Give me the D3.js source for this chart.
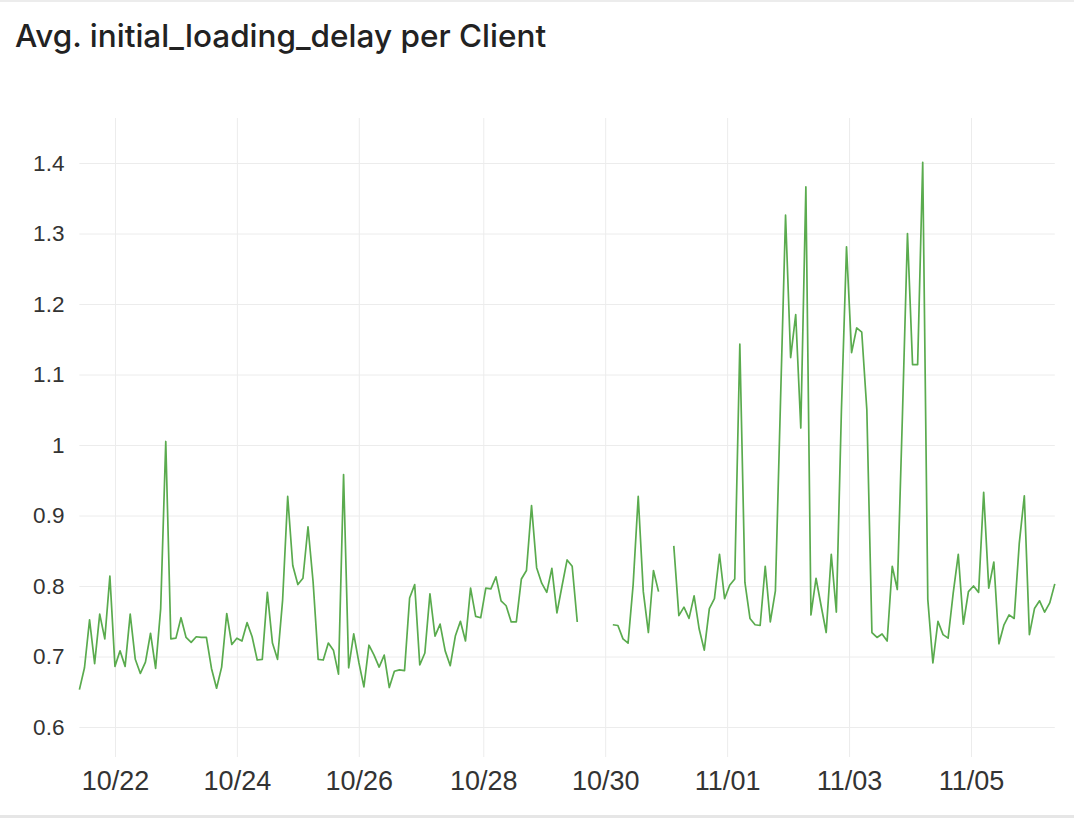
<!DOCTYPE html>
<html>
<head>
<meta charset="utf-8">
<script src="https://cdn.jsdelivr.net/npm/d3@7"></script>
<style>
  body { margin: 0; background: #fff; }
  svg { display: block; font-family: Inter, "Noto Sans", sans-serif; }
  .grid line { stroke: #ececec; stroke-width: 1; }
  .grid path { display: none; }
  .tick text { fill: #333; }
  .y-axis .tick text { font-size: 22.5px; font-variant-numeric: tabular-nums; }
  .x-axis .tick text { font-size: 27px; }
</style>
</head>
<body>
<svg id="chart"></svg>
<script>
// data: 2-hour buckets, first one 2024-10-21 08:00 UTC
var startTime = "2024-10-21T08:00:00Z";
var stepHours = 2;
var delayValues = [
  0.653, 0.684, 0.752, 0.690, 0.760, 0.725, 0.814,
  0.686, 0.708, 0.686, 0.760, 0.696, 0.676, 0.692, 0.733, 0.683, 0.768, 1.005, 0.725,
  0.726, 0.755, 0.727, 0.720, 0.728, 0.727, 0.727, 0.683, 0.655, 0.685, 0.761, 0.717,
  0.726, 0.722, 0.748, 0.728, 0.695, 0.696, 0.791, 0.719, 0.696, 0.780, 0.927, 0.829,
  0.802, 0.811, 0.884, 0.806, 0.696, 0.695, 0.719, 0.709, 0.675, 0.958, 0.684, 0.732,
  0.692, 0.657, 0.716, 0.702, 0.685, 0.702, 0.656, 0.679, 0.681, 0.680, 0.783, 0.802,
  0.688, 0.705, 0.789, 0.729, 0.746, 0.708, 0.687, 0.729, 0.750, 0.722, 0.797, 0.757,
  0.755, 0.797, 0.796, 0.813, 0.779, 0.772, 0.749, 0.749, 0.810, 0.822, 0.914, 0.826,
  0.804, 0.791, 0.825, 0.762, 0.800, 0.837, 0.828, 0.749,
  null, null, null, null, null, null,
  0.745, 0.744, 0.725, 0.719, 0.802, 0.927, 0.792, 0.734, 0.822, 0.792,
  null, null,
  0.857, 0.758, 0.770, 0.754, 0.786, 0.739, 0.709, 0.768, 0.782, 0.845,
  0.782, 0.801, 0.810, 1.143, 0.805, 0.754, 0.745, 0.744, 0.828, 0.749, 0.793, 1.060,
  1.326, 1.124, 1.185, 1.024, 1.366, 0.759, 0.811, 0.772, 0.734, 0.845, 0.763, 1.050,
  1.281, 1.131, 1.166, 1.160, 1.050, 0.734, 0.727, 0.732, 0.722, 0.828, 0.795, 1.040,
  1.300, 1.114, 1.114, 1.401, 0.781, 0.691, 0.750, 0.731, 0.726, 0.790, 0.845, 0.746,
  0.792, 0.800, 0.791, 0.933, 0.797, 0.834, 0.718, 0.745, 0.759, 0.754, 0.860, 0.928,
  0.731, 0.768, 0.779, 0.763, 0.776, 0.803
];

// x ticks at local midnight (chart shown in CET/CEST)
var xTickTimes = [
  "2024-10-21T22:00:00Z", "2024-10-23T22:00:00Z", "2024-10-25T22:00:00Z",
  "2024-10-27T23:00:00Z", "2024-10-29T23:00:00Z", "2024-10-31T23:00:00Z",
  "2024-11-02T23:00:00Z", "2024-11-04T23:00:00Z"
];
var xTickLabels = ["10/22", "10/24", "10/26", "10/28", "10/30", "11/01", "11/03", "11/05"];

var yTicks = [0.6, 0.7, 0.8, 0.9, 1.0, 1.1, 1.2, 1.3, 1.4];
var yTickLabels = ["0.6", "0.7", "0.8", "0.9", "1", "1.1", "1.2", "1.3", "1.4"];

var titleText = "Avg. initial_loading_delay per Client";

// size
var W = 1074, H = 818;
var plot = {left: 79.4, right: 1054.8, top: 118, bottom: 757};

var svg = d3.select("#chart")
    .attr("width", W)
    .attr("height", H);

// frame lines top / bottom
svg.append("rect").attr("x", 0).attr("y", 0).attr("width", W).attr("height", 2).attr("fill", "#ececec");
svg.append("rect").attr("x", 0).attr("y", 815).attr("width", W).attr("height", 3).attr("fill", "#e6e6e6");

svg.append("text")
  .attr("x", 15)
  .attr("y", 47)
  .attr("font-size", "31.5px")
  .attr("font-weight", 500)
  .attr("fill", "#222")
  .text(titleText);

var t0 = new Date(startTime);
var data = delayValues.map(function(v, i) {
  return {t: new Date(t0.getTime() + i * stepHours * 3600e3), v: v};
});

var x = d3.scaleUtc()
  .domain(d3.extent(data, function(d) { return d.t; }))
  .range([plot.left, plot.right]);

var y = d3.scaleLinear()
  .domain([0.6, 1.4])
  .range([727, 163]);

// X axis with vertical grid
svg.append("g")
  .attr("class", "grid x-axis")
  .attr("transform", "translate(0," + plot.bottom + ")")
  .call(d3.axisBottom(x)
    .tickValues(xTickTimes.map(function(s) { return new Date(s); }))
    .tickFormat(function(d, i) { return xTickLabels[i]; })
    .tickSize(-(plot.bottom - plot.top))
    .tickPadding(14));

// Y axis with horizontal grid
svg.append("g")
  .attr("class", "grid y-axis")
  .attr("transform", "translate(" + plot.left + ",0)")
  .call(d3.axisLeft(y)
    .tickValues(yTicks)
    .tickFormat(function(d, i) { return yTickLabels[i]; })
    .tickSize(-(plot.right - plot.left))
    .tickPadding(15));

var line = d3.line()
  .defined(function(d) { return d.v !== null; })
  .x(function(d) { return x(d.t); })
  .y(function(d) { return y(d.v); });

svg.append("path")
  .datum(data)
  .attr("fill", "none")
  .attr("stroke", "#5aab4e")
  .attr("stroke-width", 1.7)
  .attr("stroke-linejoin", "round")
  .attr("d", line);
</script>
</body>
</html>
